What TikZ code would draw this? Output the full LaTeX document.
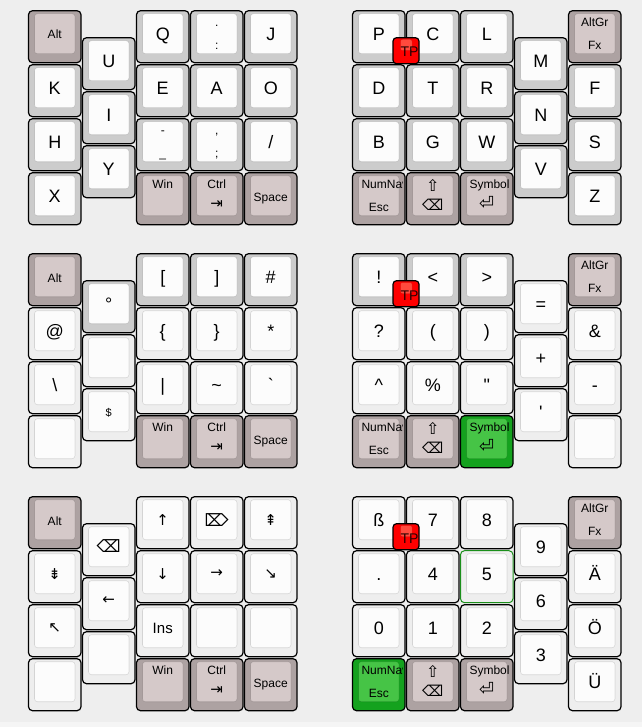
\documentclass[tikz,border=0pt]{standalone}
\usepackage{fontspec}
\setmainfont{Liberation Sans}[Ligatures=TeXOff]
\newfontfamily\dvsym{DejaVu Sans}
\definecolor{bgc}{HTML}{EEEEEE}
\definecolor{grayout}{HTML}{CCCCCC}
\definecolor{lightout}{HTML}{EEEEEE}
\definecolor{keyin}{HTML}{FCFCFC}
\definecolor{modout}{HTML}{ADA2A2}
\definecolor{modin}{HTML}{D5C9C9}
\definecolor{grnout}{HTML}{14A21E}
\definecolor{grnin}{HTML}{46C446}
\definecolor{tpout}{HTML}{FF0000}
\definecolor{tpin}{HTML}{FF4A3D}
\definecolor{fivebd}{HTML}{1A8F1A}
\tikzset{
  kout/.style={draw=black, line width=1.2bp, rounded corners=4bp, minimum width=52.5bp, minimum height=52bp, inner sep=0pt, outer sep=0pt},
  kin/.style={draw=black, draw opacity=0.12, line width=0.6bp, rounded corners=3bp, minimum width=40.5bp, minimum height=40bp, inner sep=0pt, outer sep=0pt},
  tpo/.style={draw=black, line width=1.2bp, rounded corners=3.5bp, minimum width=26bp, minimum height=26bp, inner sep=0pt, outer sep=0pt, fill=tpout},
  tpi/.style={draw=black, draw opacity=0.1, line width=0.5bp, rounded corners=2bp, minimum width=11.5bp, minimum height=11bp, inner sep=0pt, outer sep=0pt, fill=tpin},
  bigt/.style={font=\fontsize{18bp}{20bp}\selectfont, inner sep=0pt, outer sep=0pt},
  smt/.style={font=\fontsize{12bp}{14bp}\selectfont, inner sep=0pt, outer sep=0pt},
  symt/.style={inner sep=0pt, outer sep=0pt},
}
% key: [extra outer style] col row outer inner name
\newcommand\MkKey[6][]{%
  \pgfmathsetmacro\kX{28+54*#2}%
  \pgfmathsetmacro\kY{10.7+54*#3}%
  \node[kout, fill=#4, #1] (#6) at (\kX+26.75,\kY+26) {};
  \node[kin, fill=#5] (#6i) at (\kX+26.75,\kY+23) {};
}
\newcommand\LBig[2]{\node[bigt, anchor=base] (#1-t) at ([yshift=-7bp]#1i.center) {#2};}
\newcommand\LMid[2]{\node[smt, anchor=base] (#1-t) at ([yshift=-5.3bp]#1i.center) {#2};}
\newcommand\LTop[2]{\node[smt, anchor=base] (#1-t) at ([yshift=7bp]#1i.center) {#2};}
\newcommand\LBot[2]{\node[smt, anchor=base] (#1-b) at ([yshift=-16bp]#1i.center) {#2};}
\newcommand\LSym[4]{\node[symt, font=\dvsym\fontsize{#3}{#3}\selectfont] (#1-s) at ([yshift=#2]#1i.center) {#4};}
\newcommand\LOver[2]{%
  \begin{scope}
    \clip ([xshift=-2.5bp]#1.north east) rectangle (#1.south west);
    \node[smt, anchor=base west] (#1-t) at ([xshift=-17.25bp,yshift=7bp]#1i.center) {#2};
  \end{scope}}
\newcommand\TPKey[2]{%
  \pgfmathsetmacro\kX{28+54*6.75}%
  \pgfmathsetmacro\kY{10.7+54*#1}%
  \node[tpo] (#2) at (\kX+13.5,\kY+13) {};
  \node[tpi] (#2i) at (\kX+13.75,\kY+7.3) {};
  \node[font=\fontsize{14bp}{16bp}\selectfont, inner sep=0pt, anchor=base west, text=black!85!red] (#2-t) at (\kX+7.8,\kY+19.3) {TP};
}
\begin{document}
\begin{tikzpicture}[x=1bp, y=-1bp]
\useasboundingbox (0,0) rectangle (642,727);
\fill[bgc] (0,0) rectangle (642,727);
\fill[black!4] (0,722) rectangle (642,727);

% ================= Block 1 =================
\MkKey{0}{0}{modout}{modin}{a00}\LMid{a00}{Alt}
\MkKey{0}{1}{grayout}{keyin}{a01}\LBig{a01}{K}
\MkKey{0}{2}{grayout}{keyin}{a02}\LBig{a02}{H}
\MkKey{0}{3}{grayout}{keyin}{a03}\LBig{a03}{X}
\MkKey{1}{0.5}{grayout}{keyin}{a10}\LBig{a10}{U}
\MkKey{1}{1.5}{grayout}{keyin}{a11}\LBig{a11}{I}
\MkKey{1}{2.5}{grayout}{keyin}{a12}\LBig{a12}{Y}
\MkKey{2}{0}{grayout}{keyin}{a20}\LBig{a20}{Q}
\MkKey{2}{1}{grayout}{keyin}{a21}\LBig{a21}{E}
\MkKey{2}{2}{grayout}{keyin}{a22}\LTop{a22}{-}\LBot{a22}{\_}
\MkKey{2}{3}{modout}{modin}{a23}\LTop{a23}{Win}
\MkKey{3}{0}{grayout}{keyin}{a30}\LTop{a30}{.}\LBot{a30}{:}
\MkKey{3}{1}{grayout}{keyin}{a31}\LBig{a31}{A}
\MkKey{3}{2}{grayout}{keyin}{a32}\LTop{a32}{,}\LBot{a32}{;}
\MkKey{3}{3}{modout}{modin}{a33}\LTop{a33}{Ctrl}\LSym{a33}{-9bp}{15bp}{⇥}
\MkKey{4}{0}{grayout}{keyin}{a40}\LBig{a40}{J}
\MkKey{4}{1}{grayout}{keyin}{a41}\LBig{a41}{O}
\MkKey{4}{2}{grayout}{keyin}{a42}\LBig{a42}{/}
\MkKey{4}{3}{modout}{modin}{a43}\LMid{a43}{Space}
\MkKey{6}{0}{grayout}{keyin}{a60}\LBig{a60}{P}
\MkKey{6}{1}{grayout}{keyin}{a61}\LBig{a61}{D}
\MkKey{6}{2}{grayout}{keyin}{a62}\LBig{a62}{B}
\MkKey{6}{3}{modout}{modin}{a63}\LOver{a63}{NumNav}\LBot{a63}{Esc}
\MkKey{7}{0}{grayout}{keyin}{a70}\LBig{a70}{C}
\MkKey{7}{1}{grayout}{keyin}{a71}\LBig{a71}{T}
\MkKey{7}{2}{grayout}{keyin}{a72}\LBig{a72}{G}
\MkKey{7}{3}{modout}{modin}{a73}\LSym{a73}{10.7bp}{16bp}{⇧}\LSym{a73}{-9.3bp}{15bp}{⌫}
\MkKey{8}{0}{grayout}{keyin}{a80}\LBig{a80}{L}
\MkKey{8}{1}{grayout}{keyin}{a81}\LBig{a81}{R}
\MkKey{8}{2}{grayout}{keyin}{a82}\LBig{a82}{W}
\MkKey{8}{3}{modout}{modin}{a83}\LOver{a83}{Symbol}\LSym{a83}{-7.3bp}{18bp}{⏎}
\MkKey{9}{0.5}{grayout}{keyin}{a90}\LBig{a90}{M}
\MkKey{9}{1.5}{grayout}{keyin}{a91}\LBig{a91}{N}
\MkKey{9}{2.5}{grayout}{keyin}{a92}\LBig{a92}{V}
\MkKey{10}{0}{modout}{modin}{aA0}\LTop{aA0}{AltGr}\LBot{aA0}{Fx}
\MkKey{10}{1}{grayout}{keyin}{aA1}\LBig{aA1}{F}
\MkKey{10}{2}{grayout}{keyin}{aA2}\LBig{aA2}{S}
\MkKey{10}{3}{grayout}{keyin}{aA3}\LBig{aA3}{Z}
\TPKey{0.5}{atp}

% ================= Block 2 =================
\MkKey{0}{4.5}{modout}{modin}{b00}\LMid{b00}{Alt}
\MkKey{0}{5.5}{lightout}{keyin}{b01}\LBig{b01}{@}
\MkKey{0}{6.5}{lightout}{keyin}{b02}\LBig{b02}{\textbackslash}
\MkKey{0}{7.5}{lightout}{keyin}{b03}
\MkKey{1}{5}{grayout}{keyin}{b10}\LBig{b10}{°}
\MkKey{1}{6}{lightout}{keyin}{b11}
\MkKey{1}{7}{lightout}{keyin}{b12}\node[font=\fontsize{11bp}{12bp}\selectfont, inner sep=0pt, anchor=base] (b12-t) at ([yshift=-4.5bp]b12i.center) {\$};
\MkKey{2}{4.5}{grayout}{keyin}{b20}\LBig{b20}{[}
\MkKey{2}{5.5}{lightout}{keyin}{b21}\LBig{b21}{\{}
\MkKey{2}{6.5}{lightout}{keyin}{b22}\LBig{b22}{|}
\MkKey{2}{7.5}{modout}{modin}{b23}\LTop{b23}{Win}
\MkKey{3}{4.5}{grayout}{keyin}{b30}\LBig{b30}{]}
\MkKey{3}{5.5}{lightout}{keyin}{b31}\LBig{b31}{\}}
\MkKey{3}{6.5}{lightout}{keyin}{b32}\LBig{b32}{\textasciitilde}
\MkKey{3}{7.5}{modout}{modin}{b33}\LTop{b33}{Ctrl}\LSym{b33}{-9bp}{15bp}{⇥}
\MkKey{4}{4.5}{grayout}{keyin}{b40}\LBig{b40}{\#}
\MkKey{4}{5.5}{lightout}{keyin}{b41}\LBig{b41}{*}
\MkKey{4}{6.5}{lightout}{keyin}{b42}\LBig{b42}{`}
\MkKey{4}{7.5}{modout}{modin}{b43}\LMid{b43}{Space}
\MkKey{6}{4.5}{grayout}{keyin}{b60}\LBig{b60}{!}
\MkKey{6}{5.5}{lightout}{keyin}{b61}\LBig{b61}{?}
\MkKey{6}{6.5}{lightout}{keyin}{b62}\LBig{b62}{\textasciicircum}
\MkKey{6}{7.5}{modout}{modin}{b63}\LOver{b63}{NumNav}\LBot{b63}{Esc}
\MkKey{7}{4.5}{grayout}{keyin}{b70}\LBig{b70}{<}
\MkKey{7}{5.5}{lightout}{keyin}{b71}\LBig{b71}{(}
\MkKey{7}{6.5}{lightout}{keyin}{b72}\LBig{b72}{\%}
\MkKey{7}{7.5}{modout}{modin}{b73}\LSym{b73}{10.7bp}{16bp}{⇧}\LSym{b73}{-9.3bp}{15bp}{⌫}
\MkKey{8}{4.5}{grayout}{keyin}{b80}\LBig{b80}{>}
\MkKey{8}{5.5}{lightout}{keyin}{b81}\LBig{b81}{)}
\MkKey{8}{6.5}{lightout}{keyin}{b82}\LBig{b82}{"}
\MkKey{8}{7.5}{grnout}{grnin}{b83}\LOver{b83}{Symbol}\LSym{b83}{-7.3bp}{18bp}{⏎}
\MkKey{9}{5}{lightout}{keyin}{b90}\LBig{b90}{=}
\MkKey{9}{6}{lightout}{keyin}{b91}\LBig{b91}{+}
\MkKey{9}{7}{lightout}{keyin}{b92}\LBig{b92}{'}
\MkKey{10}{4.5}{modout}{modin}{bA0}\LTop{bA0}{AltGr}\LBot{bA0}{Fx}
\MkKey{10}{5.5}{lightout}{keyin}{bA1}\LBig{bA1}{\&}
\MkKey{10}{6.5}{lightout}{keyin}{bA2}\LBig{bA2}{-}
\MkKey{10}{7.5}{lightout}{keyin}{bA3}
\TPKey{5}{btp}

% ================= Block 3 =================
\MkKey{0}{9}{modout}{modin}{c00}\LMid{c00}{Alt}
\MkKey{0}{10}{lightout}{keyin}{c01}\LSym{c01}{0bp}{15bp}{⇟}
\MkKey{0}{11}{lightout}{keyin}{c02}\LSym{c02}{0bp}{15bp}{↖}
\MkKey{0}{12}{lightout}{keyin}{c03}
\MkKey{1}{9.5}{lightout}{keyin}{c10}\LSym{c10}{0.5bp}{17bp}{⌫}
\MkKey{1}{10.5}{lightout}{keyin}{c11}\LSym{c11}{0bp}{15bp}{←}
\MkKey{1}{11.5}{lightout}{keyin}{c12}
\MkKey{2}{9}{lightout}{keyin}{c20}\LSym{c20}{0bp}{15bp}{↑}
\MkKey{2}{10}{lightout}{keyin}{c21}\LSym{c21}{0bp}{15bp}{↓}
\MkKey{2}{11}{lightout}{keyin}{c22}\node[font=\fontsize{15bp}{16bp}\selectfont, inner sep=0pt, anchor=base] (c22-t) at ([yshift=-6bp]c22i.center) {Ins};
\MkKey{2}{12}{modout}{modin}{c23}\LTop{c23}{Win}
\MkKey{3}{9}{lightout}{keyin}{c30}\LSym{c30}{0bp}{17bp}{⌦}
\MkKey{3}{10}{lightout}{keyin}{c31}\LSym{c31}{0bp}{15bp}{→}
\MkKey{3}{11}{lightout}{keyin}{c32}
\MkKey{3}{12}{modout}{modin}{c33}\LTop{c33}{Ctrl}\LSym{c33}{-9bp}{15bp}{⇥}
\MkKey{4}{9}{lightout}{keyin}{c40}\LSym{c40}{0bp}{15bp}{⇞}
\MkKey{4}{10}{lightout}{keyin}{c41}\LSym{c41}{0bp}{15bp}{↘}
\MkKey{4}{11}{lightout}{keyin}{c42}
\MkKey{4}{12}{modout}{modin}{c43}\LMid{c43}{Space}
\MkKey{6}{9}{lightout}{keyin}{c60}\LBig{c60}{ß}
\MkKey{6}{10}{lightout}{keyin}{c61}\LBig{c61}{.}
\MkKey{6}{11}{lightout}{keyin}{c62}\LBig{c62}{0}
\MkKey{6}{12}{grnout}{grnin}{c63}\LOver{c63}{NumNav}\LBot{c63}{Esc}
\MkKey{7}{9}{lightout}{keyin}{c70}\LBig{c70}{7}
\MkKey{7}{10}{lightout}{keyin}{c71}\LBig{c71}{4}
\MkKey{7}{11}{lightout}{keyin}{c72}\LBig{c72}{1}
\MkKey{7}{12}{modout}{modin}{c73}\LSym{c73}{10.7bp}{16bp}{⇧}\LSym{c73}{-9.3bp}{15bp}{⌫}
\MkKey{8}{9}{lightout}{keyin}{c80}\LBig{c80}{8}
\MkKey[draw=fivebd, line width=1bp]{8}{10}{lightout}{keyin}{c81}\LBig{c81}{5}
\MkKey{8}{11}{lightout}{keyin}{c82}\LBig{c82}{2}
\MkKey{8}{12}{modout}{modin}{c83}\LOver{c83}{Symbol}\LSym{c83}{-7.3bp}{18bp}{⏎}
\MkKey{9}{9.5}{lightout}{keyin}{c90}\LBig{c90}{9}
\MkKey{9}{10.5}{lightout}{keyin}{c91}\LBig{c91}{6}
\MkKey{9}{11.5}{lightout}{keyin}{c92}\LBig{c92}{3}
\MkKey{10}{9}{modout}{modin}{cA0}\LTop{cA0}{AltGr}\LBot{cA0}{Fx}
\MkKey{10}{10}{lightout}{keyin}{cA1}\LBig{cA1}{Ä}
\MkKey{10}{11}{lightout}{keyin}{cA2}\LBig{cA2}{Ö}
\MkKey{10}{12}{lightout}{keyin}{cA3}\LBig{cA3}{Ü}
\TPKey{9.5}{ctp}
\end{tikzpicture}
\end{document}
